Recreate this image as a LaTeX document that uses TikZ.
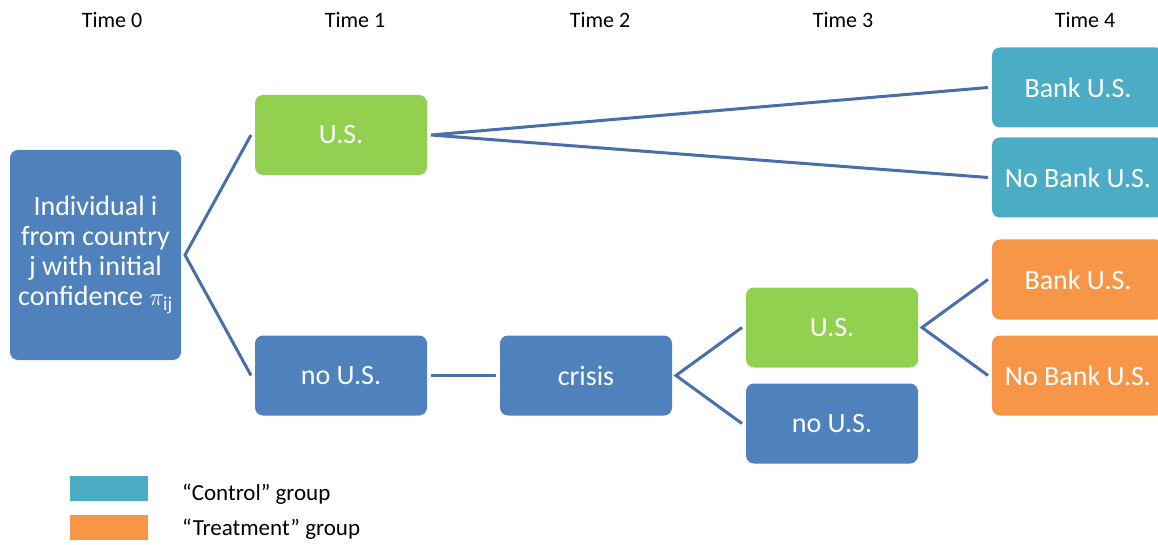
\documentclass[tikz,border=0pt]{standalone}
\usepackage{fontspec}
\setmainfont{Carlito}
\usepackage{tikz}
\usetikzlibrary{positioning}
\definecolor{boxblue}{HTML}{4F81BD}
\definecolor{boxgreen}{HTML}{92D050}
\definecolor{boxcyan}{HTML}{4BACC6}
\definecolor{boxorange}{HTML}{F79646}
\definecolor{linkblue}{HTML}{4A6FA8}
\tikzset{
  % boxes
  tb/.style={rectangle,rounded corners=8pt,draw=none,text=white,align=center,
             minimum width=172pt,minimum height=80pt,inner sep=2pt,outer sep=4pt,
             font=\fontsize{28pt}{30pt}\selectfont},
  tbb/.style={tb,fill=boxblue},
  tbg/.style={tb,fill=boxgreen},
  tbc/.style={tb,fill=boxcyan},
  tbo/.style={tb,fill=boxorange},
  % lines
  tl/.style={draw=linkblue,line width=3pt},
  tlab/.style={font=\fontsize{22pt}{26pt}\selectfont,inner sep=0pt},
  klab/.style={font=\fontsize{23pt}{26pt}\selectfont,inner sep=0pt},
  key/.style={rectangle,minimum width=78pt,minimum height=25pt,inner sep=0pt},
}
\begin{document}
\begin{tikzpicture}[x=1pt,y=-1pt]
\useasboundingbox (0,0) rectangle (1158,545);
\clip (0,0) rectangle (1158,545);
  % time axis
  \node[tlab] (t0) at (112,20) {Time 0};
  \node[tlab] (t1) at (355,20) {Time 1};
  \node[tlab] (t2) at (600,20) {Time 2};
  \node[tlab] (t3) at (843,20) {Time 3};
  \node[tlab] (t4) at (1085,20) {Time 4};
  % tree
  \node[tbb,minimum width=171pt,minimum height=210pt] (ind) at (95.5,255)
    {Individual i\\from country\\j with initial\\confidence $\pi_{\mathrm{ij}}$};
  \node[tbg] (us1) at (341,135) {U.S.};
  \node[tbb] (nous1) at (341,375.5) {no U.S.};
  \node[tbb] (crisis) at (586,375.5) {crisis};
  \node[tbg] (us3) at (832,327.5) {U.S.};
  \node[tbb] (nous3) at (832,423.5) {no U.S.};
  \node[tbc] (bus) at (1078,87.5) {Bank U.S.};
  \node[tbc] (nbus) at (1078,177.5) {No Bank U.S.};
  \node[tbo] (btr) at (1078,279.5) {Bank U.S.};
  \node[tbo] (nbtr) at (1078,375.5) {No Bank U.S.};
  \draw[tl] (us1.west) -- (ind.east) -- (nous1.west);
  \draw[tl] (bus.west) -- (us1.east) -- (nbus.west);
  \draw[tl] (nous1.east) -- (crisis.west);
  \draw[tl] (us3.west) -- (crisis.east) -- (nous3.west);
  \draw[tl] (btr.west) -- (us3.east) -- (nbtr.west);
  % legend
  \node[key,fill=boxcyan] (kc) at (109,488.5) {};
  \node[key,fill=boxorange] (ko) at (109,527) {};
  \node[klab,anchor=west] (kct) at (182,494) {“Control” group};
  \node[klab,anchor=west] (kot) at (182,529) {“Treatment” group};
\end{tikzpicture}
\end{document}
